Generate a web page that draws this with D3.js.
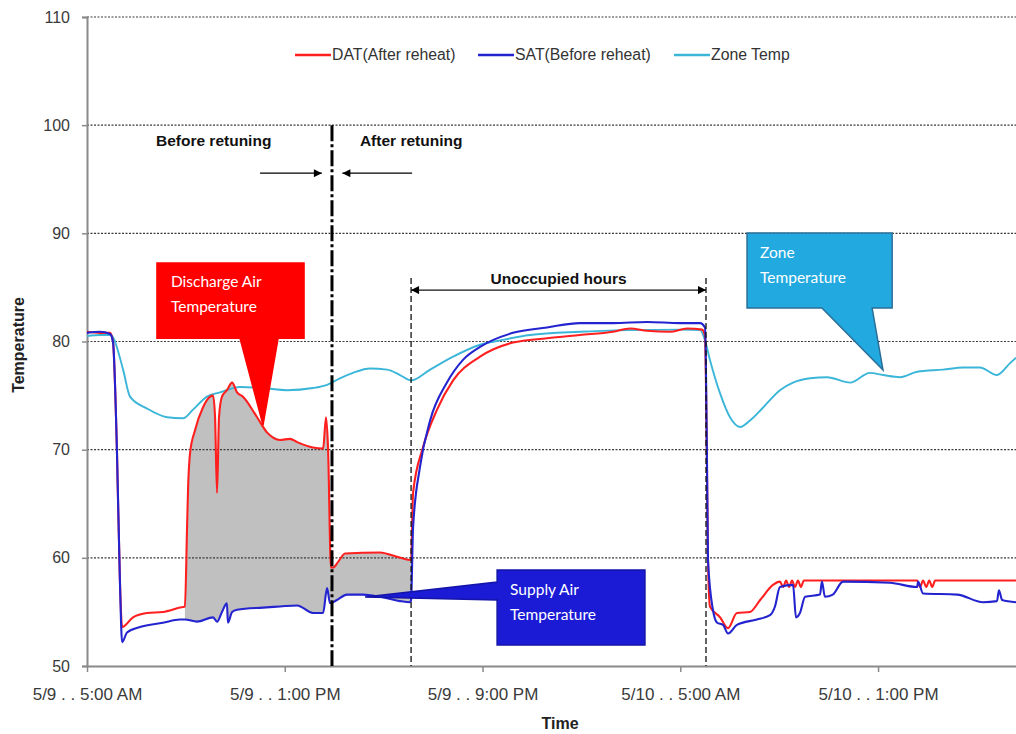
<!DOCTYPE html>
<html><head><meta charset="utf-8">
<script src="https://cdn.jsdelivr.net/npm/d3@7"></script>
<style>
html,body{margin:0;padding:0;background:#fff;}
svg{display:block;}
</style></head>
<body>
<svg id="chart" width="1016" height="734"></svg>
<script>
// ---- data (hours since 5/9 00:00, temperature °F) ----
const tickHours = [5, 13, 21, 29, 37];
const tickLabels = ["5/9 . . 5:00 AM", "5/9 . . 1:00 PM", "5/9 . . 9:00 PM", "5/10 . . 5:00 AM", "5/10 . . 1:00 PM"];
const yTicks = [50, 60, 70, 80, 90, 100, 110];
const seriesNames = ["DAT(After reheat)", "SAT(Before reheat)", "Zone Temp"];

const datTemp = [[5.00,80.9],[5.53,80.8],[5.93,80.8],[6.05,80.0],[6.21,70],[6.33,58],[6.42,53.6],[6.86,54.5],[7.43,54.9],[8.07,55.0],[8.76,55.4],[8.96,55.5],[9.05,63],[9.09,66.5],[9.17,69.7],[9.37,71.8],[9.69,73.9],[9.98,74.9],[10.10,75.0],[10.18,73],[10.26,66.0],[10.34,73],[10.46,74.9],[10.66,75.5],[10.87,76.2],[11.07,75.3],[11.31,74.9],[11.88,73.0],[12.28,71.6],[12.81,70.9],[13.21,71.0],[13.50,70.7],[14.14,70.2],[14.55,70.1],[14.67,73.0],[14.75,70.2],[14.87,59.1],[14.95,59.1],[15.15,59.6],[15.44,60.4],[16.85,60.5],[17.54,60.1],[18.07,59.8],[18.11,59.8],[18.19,66.0],[18.59,70.2],[19.16,73.7],[19.81,76.4],[20.90,78.6],[22.23,79.9],[23.61,80.3],[24.94,80.6],[26.28,80.9],[26.97,81.2],[27.65,81.0],[28.58,80.9],[29.27,81.2],[29.88,81.1],[30.00,80.5],[30.08,68.0],[30.12,60.0],[30.20,55.5],[30.61,54.5],[30.93,53.5],[31.29,54.9],[31.82,55.0],[32.23,56.1],[32.75,57.5],[33.03,57.8],[33.16,57.3],[33.28,57.9],[33.40,57.3],[33.52,57.9],[33.64,57.3],[33.76,57.9],[33.88,57.3],[34.00,57.9],[38.58,57.9],[38.70,57.3],[38.82,57.9],[38.95,57.3],[39.07,57.9],[39.19,57.3],[39.31,57.9],[42.58,57.9]];

const satTemp = [[5.00,80.8],[5.53,80.9],[5.93,80.7],[6.05,80.0],[6.21,70],[6.33,58],[6.42,52.2],[6.62,53.1],[7.14,53.6],[8.07,54.0],[8.76,54.3],[8.96,54.3],[9.45,54.1],[10.10,54.5],[10.26,54.1],[10.46,55.0],[10.66,55.8],[10.70,54.0],[10.87,55.0],[11.07,55.2],[12.12,55.4],[12.81,55.5],[13.50,55.6],[14.14,54.9],[14.55,54.9],[14.71,57.2],[14.83,55.8],[15.11,56.1],[15.52,56.6],[16.17,56.6],[16.85,56.4],[17.66,56.0],[18.07,55.9],[18.11,56.1],[18.19,62.8],[18.47,68.4],[18.88,72.7],[19.56,76.2],[20.21,78.3],[20.90,79.5],[22.23,80.8],[23.61,81.3],[24.94,81.7],[26.28,81.7],[27.65,81.8],[28.99,81.7],[29.80,81.7],[30.00,81.3],[30.08,69.0],[30.12,59.8],[30.32,55.2],[30.49,54.0],[30.73,53.8],[30.93,53.0],[31.29,53.8],[32.10,54.3],[32.63,54.7],[32.83,55.5],[33.03,57.3],[33.56,57.5],[33.68,54.5],[33.84,54.9],[34.05,56.4],[34.65,56.6],[34.73,57.8],[34.85,56.4],[35.17,56.6],[35.58,57.8],[37.48,57.7],[38.58,57.3],[38.62,57.8],[38.82,56.7],[40.20,56.6],[41.25,55.9],[41.81,56.0],[41.89,57.0],[42.02,56.1],[42.58,55.9]];

const zoneTemp = [[5.00,80.5],[5.53,80.6],[5.97,80.6],[6.05,80.4],[6.46,77.4],[6.74,74.9],[7.43,73.8],[8.24,73.0],[8.88,72.9],[9.29,73.7],[9.85,74.9],[10.38,75.3],[11.19,75.8],[12.12,75.7],[13.09,75.5],[14.14,75.7],[14.71,76.0],[15.23,76.6],[15.76,77.1],[16.45,77.5],[17.14,77.4],[17.66,76.9],[18.11,76.4],[18.88,77.4],[19.81,78.6],[20.90,79.7],[21.71,80.1],[22.92,80.6],[24.94,80.9],[26.97,81.05],[28.99,81.1],[29.80,81.05],[30.00,80.1],[30.20,78.3],[30.61,75.2],[31.01,73.0],[31.42,72.1],[31.82,72.7],[32.35,73.9],[33.03,75.5],[33.56,76.2],[34.25,76.6],[34.94,76.7],[35.87,76.2],[36.67,77.1],[37.20,76.9],[37.89,76.7],[38.58,77.2],[39.63,77.4],[40.44,77.6],[41.12,77.6],[41.81,76.9],[42.34,78.0],[42.58,78.5]];

// event times (hours)
const retuneHour = 14.91;
const unoccStart = 18.11, unoccEnd = 30.04;
const fillStart = 8.96, fillEnd = 18.11;

// ---- layout ----
const svg = d3.select("#chart");
const W = 1016, H = 734;
const m = {left: 87, right: 0, top: 17, bottom: 68};
const x = d3.scaleLinear().domain([5, 42.58]).range([m.left, W - m.right]);
const y = d3.scaleLinear().domain([50, 110]).range([H - m.bottom, m.top]);

svg.append("rect").attr("width", W).attr("height", H).attr("fill", "#fff");

// gray fill between DAT and SAT
const fillPts = datTemp.filter(d => d[0] >= fillStart && d[0] <= fillEnd)
  .concat(satTemp.filter(d => d[0] >= fillStart && d[0] <= fillEnd).reverse());
svg.append("path")
  .attr("d", d3.line().x(d => x(d[0])).y(d => y(d[1]))(fillPts) + "Z")
  .attr("fill", "#c0c0c0").attr("stroke", "none");

// gridlines
svg.append("g").selectAll("line").data(yTicks.filter(v => v > 50)).join("line")
  .attr("x1", x(5)).attr("x2", W).attr("y1", d => y(d)).attr("y2", d => y(d))
  .attr("stroke", "#3a3a3a").attr("stroke-width", 1.1).attr("stroke-dasharray", "2,1.5");

// axes
const yAxis = svg.append("g").attr("transform", `translate(${m.left},0)`)
  .call(d3.axisLeft(y).tickValues(yTicks).tickSize(5).tickPadding(12));
yAxis.select(".domain").attr("stroke", "#8a8a8a").attr("stroke-width", 2);
yAxis.selectAll(".tick line").attr("stroke", "#8a8a8a").attr("stroke-width", 1.5);
yAxis.selectAll("text").attr("font-family", "Liberation Sans, Arial, sans-serif")
  .attr("font-size", 16).attr("fill", "#3a3a3a");

const xAxis = svg.append("g").attr("transform", `translate(0,${y(50)})`)
  .call(d3.axisBottom(x).tickValues(tickHours).tickFormat((d, i) => tickLabels[i]).tickSize(6).tickPadding(16).tickSizeOuter(0));
xAxis.select(".domain").attr("stroke", "#8a8a8a").attr("stroke-width", 2);
xAxis.selectAll(".tick line").attr("stroke", "#8a8a8a").attr("stroke-width", 1.5);
xAxis.selectAll("text").attr("font-family", "Liberation Sans Narrow, Arial Narrow, Liberation Sans, Arial, sans-serif")
  .attr("font-size", 17).attr("fill", "#3a3a3a");

// axis titles
svg.append("text").attr("transform", "translate(24,345) rotate(-90)")
  .attr("text-anchor", "middle").attr("font-family", "Liberation Sans, Arial, sans-serif")
  .attr("font-weight", "bold").attr("font-size", 16).attr("fill", "#222").text("Temperature");
svg.append("text").attr("x", 560).attr("y", 729).attr("text-anchor", "middle")
  .attr("font-family", "Liberation Sans, Arial, sans-serif")
  .attr("font-weight", "bold").attr("font-size", 16).attr("fill", "#222").text("Time");

// series lines
const line = d3.line().x(d => x(d[0])).y(d => y(d[1])).curve(d3.curveMonotoneX);
const colors = {dat: "#ff1f1f", sat: "#2323cf", zone: "#3cb6d8"};
svg.append("path").attr("d", line(zoneTemp)).attr("fill", "none").attr("stroke", colors.zone).attr("stroke-width", 1.9);
svg.append("path").attr("d", line(datTemp)).attr("fill", "none").attr("stroke", colors.dat).attr("stroke-width", 2.1);
svg.append("path").attr("d", line(satTemp)).attr("fill", "none").attr("stroke", colors.sat).attr("stroke-width", 2.1);

// markers for arrows
const defs = svg.append("defs");
defs.append("marker").attr("id", "arr").attr("viewBox", "0 0 10 10").attr("refX", 10).attr("refY", 5)
  .attr("markerWidth", 10).attr("markerHeight", 8).attr("markerUnits", "userSpaceOnUse").attr("orient", "auto-start-reverse")
  .append("path").attr("d", "M0,0 L10,5 L0,10 Z").attr("fill", "#000");

// retuning line
svg.append("line").attr("x1", x(retuneHour)).attr("x2", x(retuneHour)).attr("y1", y(100)).attr("y2", y(50))
  .attr("stroke", "#000").attr("stroke-width", 3).attr("stroke-dasharray", "16,3,3,3");
svg.append("text").attr("x", x(7.79)).attr("y", y(98.06)).attr("font-family", "Liberation Sans, Arial, sans-serif")
  .attr("font-weight", "bold").attr("font-size", 15.5).attr("fill", "#111").text("Before retuning");
svg.append("text").attr("x", x(16.04)).attr("y", y(98.06)).attr("font-family", "Liberation Sans, Arial, sans-serif")
  .attr("font-weight", "bold").attr("font-size", 15.5).attr("fill", "#111").text("After retuning");
svg.append("line").attr("x1", x(12.0)).attr("x2", x(14.5)).attr("y1", y(95.56)).attr("y2", y(95.56))
  .attr("stroke", "#000").attr("stroke-width", 1.2).attr("marker-end", "url(#arr)");
svg.append("line").attr("x1", x(18.15)).attr("x2", x(15.33)).attr("y1", y(95.56)).attr("y2", y(95.56))
  .attr("stroke", "#000").attr("stroke-width", 1.2).attr("marker-end", "url(#arr)");

// unoccupied hours
[unoccStart, unoccEnd].forEach(h => {
  svg.append("line").attr("x1", x(h)).attr("x2", x(h)).attr("y1", y(85.86)).attr("y2", y(50))
    .attr("stroke", "#111").attr("stroke-width", 1.3).attr("stroke-dasharray", "6,3");
});
svg.append("line").attr("x1", x(unoccStart)).attr("x2", x(unoccEnd)).attr("y1", y(84.75)).attr("y2", y(84.75))
  .attr("stroke", "#111").attr("stroke-width", 1.3)
  .attr("marker-start", "url(#arr)").attr("marker-end", "url(#arr)");
svg.append("text").attr("x", x((unoccStart + unoccEnd) / 2)).attr("y", y(85.3)).attr("text-anchor", "middle")
  .attr("font-family", "Liberation Sans, Arial, sans-serif").attr("font-weight", "bold")
  .attr("font-size", 15.5).attr("fill", "#111").text("Unoccupied hours");

// legend
const legX = [295, 478, 674];
seriesNames.forEach((n, i) => {
  const c = [colors.dat, colors.sat, colors.zone][i];
  svg.append("line").attr("x1", legX[i]).attr("x2", legX[i] + 36).attr("y1", 55).attr("y2", 55)
    .attr("stroke", c).attr("stroke-width", 2.5);
  svg.append("text").attr("x", legX[i] + 37).attr("y", 60).attr("font-family", "Liberation Sans, Arial, sans-serif")
    .attr("font-size", 15.8).attr("fill", "#333").text(n);
});

// callouts (coordinates in data units)
function callout(pts, fill, stroke, lines, tx, ty) {
  const p = pts.map(d => [x(d[0]), y(d[1])]);
  svg.append("path").attr("d", "M" + p.map(d => d.join(",")).join("L") + "Z")
    .attr("fill", fill).attr("stroke", stroke).attr("stroke-width", 1.5);
  lines.forEach((t, i) => {
    svg.append("text").attr("x", tx).attr("y", ty + i * 25).attr("font-family", "Lato, Carlito, Calibri, sans-serif")
      .attr("font-size", 15.5).attr("fill", "#fff").text(t);
  });
}
// Discharge Air Temperature (box 7.83-13.78 h, 80.3-87.25 °F, pointer to DAT line)
callout([[7.83,87.25],[13.78,87.25],[13.78,80.3],[12.73,80.3],[12.12,72.27],[11.19,80.3],[7.83,80.3]],
  "#ff0000", "#ff0000", ["Discharge Air", "Temperature"], x(7.83) + 14, y(87.25) + 24);
// Supply Air Temperature
callout([[21.59,58.87],[27.57,58.87],[27.57,51.94],[21.59,51.94],[21.59,56.1],[16.25,56.38],[21.59,57.76]],
  "#1b1bd6", "#1414a8", ["Supply Air", "Temperature"], x(21.59) + 13, y(58.87) + 25);
// Zone Temperature
callout([[31.70,90.02],[37.57,90.02],[37.57,83.09],[36.76,83.09],[37.20,77.36],[34.73,83.09],[31.70,83.09]],
  "#22a9e0", "#2b6f98", ["Zone", "Temperature"], x(31.70) + 13, y(90.02) + 25);
</script>
</body></html>
